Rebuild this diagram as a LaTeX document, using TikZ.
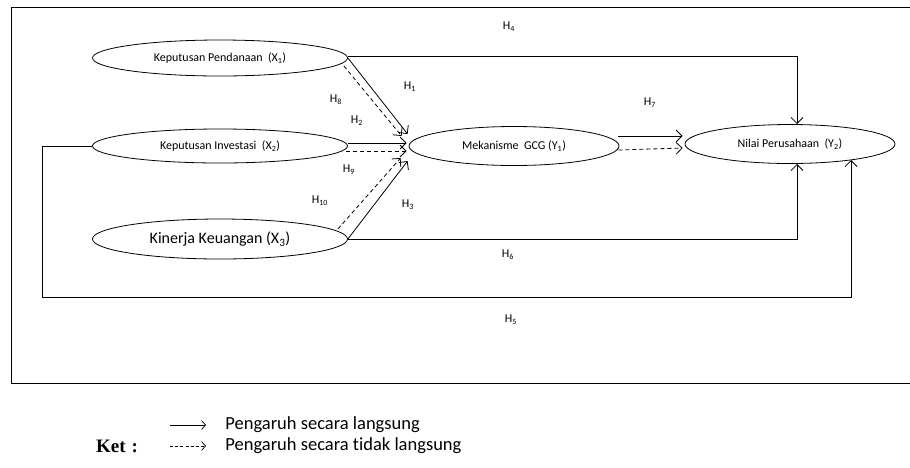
\documentclass[tikz,border=0pt]{standalone}
\usepackage{fontspec}
\setmainfont{Carlito}[RawFeature={-liga}]
\newfontfamily\ketfont{Liberation Serif}
\usetikzlibrary{arrows.meta,shapes.geometric,calc}

\begin{document}
\begin{tikzpicture}[x=1pt,y=-1pt,line width=0.8pt,
  var/.style={ellipse,draw,line width=0.8pt,minimum width=255pt,minimum height=36pt,
    inner sep=0pt,font=\fontsize{12}{13}\selectfont},
  dep/.style={ellipse,draw,line width=0.8pt,minimum width=210pt,minimum height=39pt,
    inner sep=0pt,font=\fontsize{12}{13}\selectfont},
  link/.style={line width=0.8pt,-{Straight Barb[length=6pt,width=12pt]}},
  ind/.style={link,dash pattern=on 4pt off 3pt},
  hyp/.style={font=\fontsize{12}{13}\selectfont,inner sep=0pt},
  keytip/.style={line width=0.7pt,-{Straight Barb[length=4pt,width=9pt]}},
  keytext/.style={font=\fontsize{18.5}{21}\selectfont,anchor=west,inner sep=0pt}]
\useasboundingbox (0,0) rectangle (910,467);
\clip (0,0) rectangle (910,467);

% outer frame
\draw (11,7) rectangle (920,383);

% variables
\node[var] (x1) at (220,58) {Keputusan Pendanaan\ \ (X\textsubscript{1})};
\node[var,minimum height=34pt] (x2) at (220,146) {Keputusan Investasi\ \ (X\textsubscript{2})};
\node[var,minimum height=40pt,font=\fontsize{16}{18}\selectfont] (x3) at (220,239) {Kinerja Keuangan (X\textsubscript{3})};
\node[dep] (y1) at (514,146) {Mekanisme\ \ GCG (Y\textsubscript{1})};
\node[dep] (y2) at (790,144) {Nilai Perusahaan\ \ (Y\textsubscript{2})};

% effects on Y1
\draw[link] (x1.east) -- ($(y1.west)+(-1,-12)$);
\draw[ind] ($(x1.east)+(-4,8)$) -- ($(y1.west)+(-7,-10)$);
\draw[link] ($(x2.east)+(0,-3)$) -- ($(y1.west)+(-2,-3)$);
\draw[ind] ($(x2.east)+(-2,5)$) -- ($(y1.west)+(-2,5)$);
\draw[link] (x3.east) -- ($(y1.west)+(-1,15)$);
\draw[ind] ($(x3.east)+(-10,-10)$) -- ($(y1.west)+(-8,12)$);

% Y1 -> Y2
\draw[link] ($(y1.east)+(-1,-10)$) -- ($(y2.west)+(-2,-8)$);
\draw[ind] ($(y1.east)+(-1,4)$) -- ($(y2.west)+(-2,4)$);

% direct effects on Y2
\draw[link] ($(x1.east)+(0,-2)$) -| ($(y2.center)+(7,-20)$);
\draw[link] (x3.east) -| ($(y2.center)+(7,20)$);
\coordinate (h5corner) at (42,297);
\draw[link] (x2.west) -| (h5corner) -| ($(y2.center)+(61,16)$);

% hypothesis labels
\node[hyp] (h1) at (410,87) {H\textsubscript{1}};
\node[hyp] (h8) at (336,100) {H\textsubscript{8}};
\node[hyp] (h2) at (357,121) {H\textsubscript{2}};
\node[hyp] (h9) at (349,170) {H\textsubscript{9}};
\node[hyp] (h10) at (320,201) {H\textsubscript{10}};
\node[hyp] (h3) at (408,205) {H\textsubscript{3}};
\node[hyp] (h7) at (650,103) {H\textsubscript{7}};
\node[hyp] (h4) at (509,27) {H\textsubscript{4}};
\node[hyp] (h6) at (508,255) {H\textsubscript{6}};
\node[hyp] (h5) at (511,320) {H\textsubscript{5}};

% legend
\node[font=\ketfont\bfseries\fontsize{19}{21}\selectfont,inner sep=0pt] (ket) at (117,446) {Ket\hspace{6pt}:};
\coordinate (ks1) at (170,425);
\coordinate (ke1) at (206,425);
\coordinate (ks2) at (170,446);
\coordinate (ke2) at (206,446);
\draw[keytip] (ks1) -- (ke1);
\draw[keytip,dash pattern=on 3pt off 2.2pt] (ks2) -- (ke2);
\node[keytext] (k1) at (225,425) {Pengaruh secara langsung};
\node[keytext] (k2) at (225,446) {Pengaruh secara tidak langsung};
\end{tikzpicture}
\end{document}
